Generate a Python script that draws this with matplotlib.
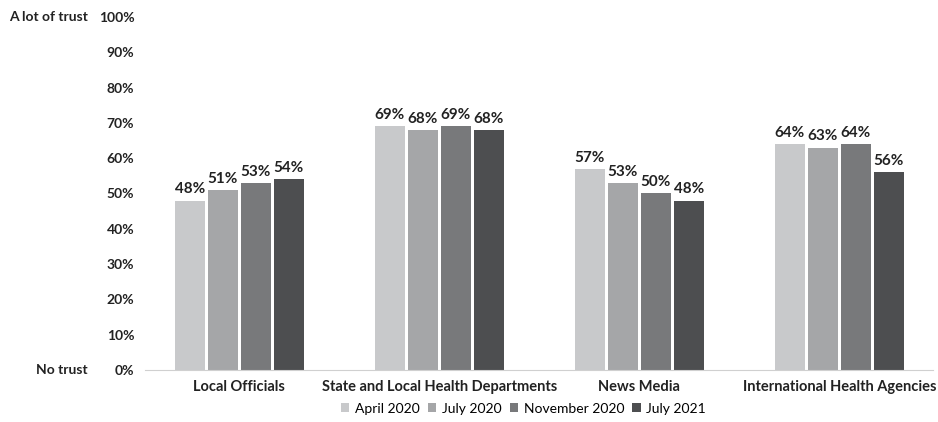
import numpy as np
import matplotlib.pyplot as plt

plt.rcParams['font.family'] = ['Lato', 'DejaVu Sans']

categories = ['Local Officials', 'State and Local Health Departments',
              'News Media', 'International Health Agencies']
series = ['April 2020', 'July 2020', 'November 2020', 'July 2021']
values = [
    [48, 69, 57, 64],
    [51, 68, 53, 63],
    [53, 69, 50, 64],
    [54, 68, 48, 56],
]
colors = ['#C8C9CB', '#A5A6A8', '#78797B', '#4D4E50']

fig = plt.figure(figsize=(9.38, 4.22), dpi=100)
ax = fig.add_axes([0.155, 0.123, 0.840, 0.837])

x = np.arange(len(categories))
step = 0.165
width = 0.148
for i, (name, vals) in enumerate(zip(series, values)):
    pos = x + (i - 1.5) * step
    bars = ax.bar(pos, vals, width, color=colors[i], label=name, zorder=2)
    for b, v in zip(bars, vals):
        ax.text(b.get_x() + b.get_width() / 2, v + 1.2, f'{v}%',
                ha='center', va='bottom', fontsize=11, fontweight='bold',
                color='#222222')

ax.set_xlim(-0.47, 3.47)
ax.set_ylim(0, 100)
ax.set_yticks(range(0, 101, 10))
ax.set_yticklabels([f'{t}%' for t in range(0, 101, 10)],
                   fontsize=10, fontweight='bold', color='#222222')
ax.set_xticks(x)
ax.set_xticklabels(categories, fontsize=10.5, fontweight='bold', color='#222222')
ax.tick_params(axis='both', length=0)
ax.tick_params(axis='y', pad=8)
ax.tick_params(axis='x', pad=7)
for s in ['top', 'right', 'left']:
    ax.spines[s].set_visible(False)
ax.spines['bottom'].set_color('#D0D0D0')

fig.text(0.010, 0.960, 'A lot of trust', fontsize=10, fontweight='bold',
         color='#222222', va='center', ha='left')
fig.text(0.038, 0.123, 'No trust', fontsize=10, fontweight='bold',
         color='#222222', va='center', ha='left')

fig.legend(loc='lower center', bbox_to_anchor=(0.558, -0.012), ncol=4,
           frameon=False, fontsize=10, handlelength=0.6, handleheight=0.6,
           handletextpad=0.4, columnspacing=0.6)

fig.savefig('out.png', dpi=100)
